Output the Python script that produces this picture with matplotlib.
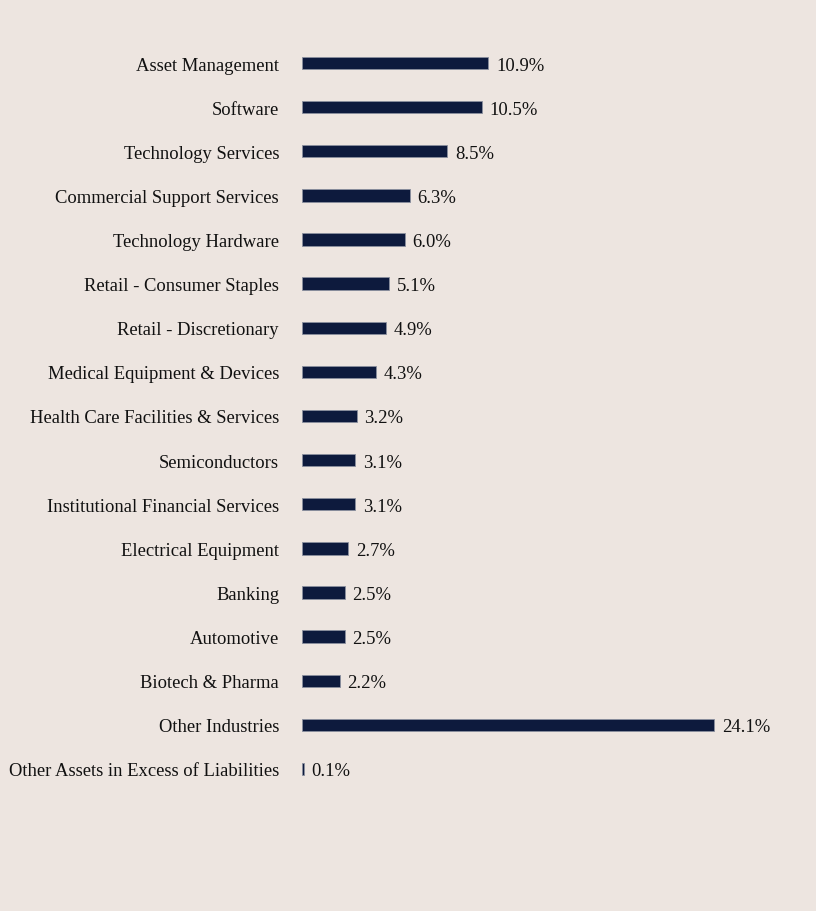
import matplotlib
matplotlib.use("Agg")
import matplotlib.pyplot as plt

categories = [
    "Asset Management", "Software", "Technology Services",
    "Commercial Support Services", "Technology Hardware",
    "Retail - Consumer Staples", "Retail - Discretionary",
    "Medical Equipment & Devices", "Health Care Facilities & Services",
    "Semiconductors", "Institutional Financial Services",
    "Electrical Equipment", "Banking", "Automotive", "Biotech & Pharma",
    "Other Industries", "Other Assets in Excess of Liabilities",
]
values = [10.9, 10.5, 8.5, 6.3, 6.0, 5.1, 4.9, 4.3, 3.2, 3.1, 3.1,
          2.7, 2.5, 2.5, 2.2, 24.1, 0.1]

bg = "#EDE5E0"
bar_color = "#0D1A3D"

plt.rcParams['font.family'] = ['Liberation Serif', 'DejaVu Serif']

fig = plt.figure(figsize=(8.16, 9.12), dpi=100, facecolor=bg)
ax = fig.add_axes([302 / 816, 1 - 792 / 912, 496 / 816, 750 / 912])
ax.set_facecolor(bg)

pos = list(range(len(categories)))
ax.barh(pos, values, height=0.28, color=bar_color,
        edgecolor="#8A8F9E", linewidth=0.6)

# value labels, same baseline as the category labels
for y, v in zip(pos, values):
    ax.text(v + 0.45, y, f"{v:.1f}%", va="center_baseline", ha="left",
            fontsize=13.4, color="#111111")

ax.set_xlim(0, 29)
ax.set_ylim(len(categories) - 0.5, -0.5)
ax.set_yticks(pos)
ax.set_yticklabels(categories, fontsize=13.4, color="#111111")
ax.tick_params(axis="y", length=0, pad=16.5)
ax.set_xticks([])
for s in ax.spines.values():
    s.set_visible(False)

fig.savefig("out.png", dpi=100, facecolor=bg)
